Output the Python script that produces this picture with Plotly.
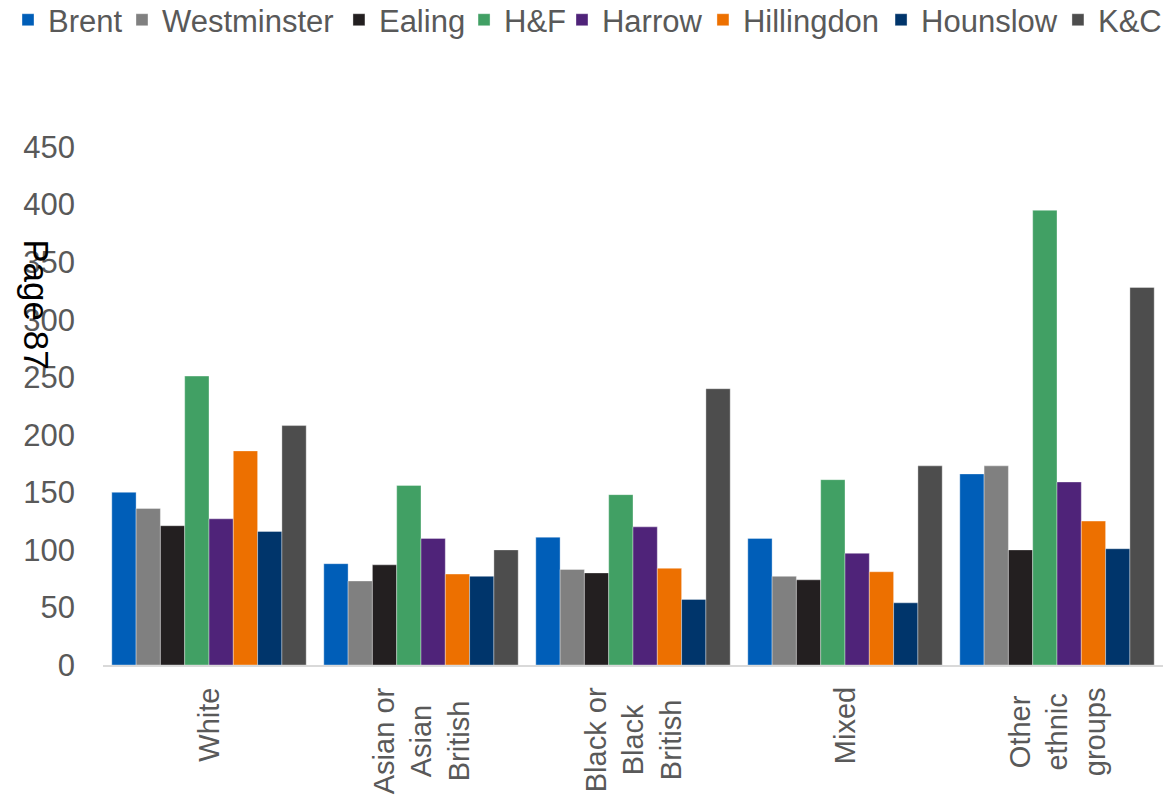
import plotly.graph_objects as go

# Ethnic group categories (x axis)
categories = ["White", "Asian or Asian British", "Black or Black British",
              "Mixed", "Other ethnic groups"]
category_labels = ["White", "Asian or<br>Asian<br>British", "Black or<br>Black<br>British",
                   "Mixed", "Other<br>ethnic<br>groups"]

# Borough series, one value per ethnic group
brent = [150, 88, 111, 110, 166]
westminster = [136, 73, 83, 77, 173]
ealing = [121, 87, 80, 74, 100]
hf = [251, 156, 148, 161, 395]
harrow = [127, 110, 120, 97, 159]
hillingdon = [186, 79, 84, 81, 125]
hounslow = [116, 77, 57, 54, 101]
kc = [208, 100, 240, 173, 328]

series_names = ["Brent", "Westminster", "Ealing", "H&F", "Harrow",
                "Hillingdon", "Hounslow", "K&C"]
series_values = [brent, westminster, ealing, hf, harrow, hillingdon, hounslow, kc]
series_colors = ["#005EB8", "#808080", "#231F20", "#41A064", "#4F2379",
                 "#ED7000", "#00356B", "#4D4D4D"]

y_ticks = [0, 50, 100, 150, 200, 250, 300, 350, 400, 450]

FONT = "Liberation Sans, Arial, sans-serif"
GREY = "#595959"

# one single-entry legend per borough so the key spreads across one row
legend_x = [-0.0896, 0.0179, 0.2226, 0.3406, 0.4330, 0.5660, 0.7340, 0.9009]

fig = go.Figure()
layout_legends = {}
for i, (name, vals, col) in enumerate(zip(series_names, series_values, series_colors)):
    key = "legend" if i == 0 else f"legend{i + 1}"
    fig.add_trace(go.Bar(
        name=name, x=categories, y=vals, legend=key,
        marker=dict(color=col, line=dict(width=0.6, color="rgba(255,255,255,0.6)")),
    ))
    layout_legends[key] = dict(
        orientation="h", x=legend_x[i], xanchor="left", y=1.245, yanchor="middle",
        font=dict(family=FONT, size=31, color=GREY), bgcolor="rgba(0,0,0,0)",
    )

fig.update_layout(
    width=1163, height=801,
    margin=dict(l=103, r=0, t=147, b=136, autoexpand=False),
    paper_bgcolor="white", plot_bgcolor="white",
    barmode="group", bargap=0.083, bargroupgap=0,
    font=dict(family=FONT, size=31, color=GREY),
    showlegend=True,
    xaxis=dict(showgrid=False, showline=True, linecolor="#D9D9D9",
               linewidth=2, ticks="", showticklabels=False),
    yaxis=dict(range=[0, 450], tickvals=y_ticks, showgrid=False, zeroline=False,
               showline=False, ticks="", ticklabelstandoff=27,
               tickfont=dict(family=FONT, size=31, color=GREY)),
    **layout_legends,
)

# category labels, rotated and centred under each group
for cat, lab in zip(categories, category_labels):
    fig.add_annotation(
        text=lab, x=cat, xref="x", y=-0.04, yref="paper",
        xanchor="center", yanchor="top", textangle=-90, align="center",
        showarrow=False, font=dict(family=FONT, size=29, color=GREY),
    )

fig.add_annotation(
    text="Page 87", xref="paper", yref="paper",
    x=-0.0635, y=0.697, xanchor="center", yanchor="middle",
    textangle=90, showarrow=False,
    font=dict(family=FONT, size=35, color="black"),
)

fig.write_html("out.html")
